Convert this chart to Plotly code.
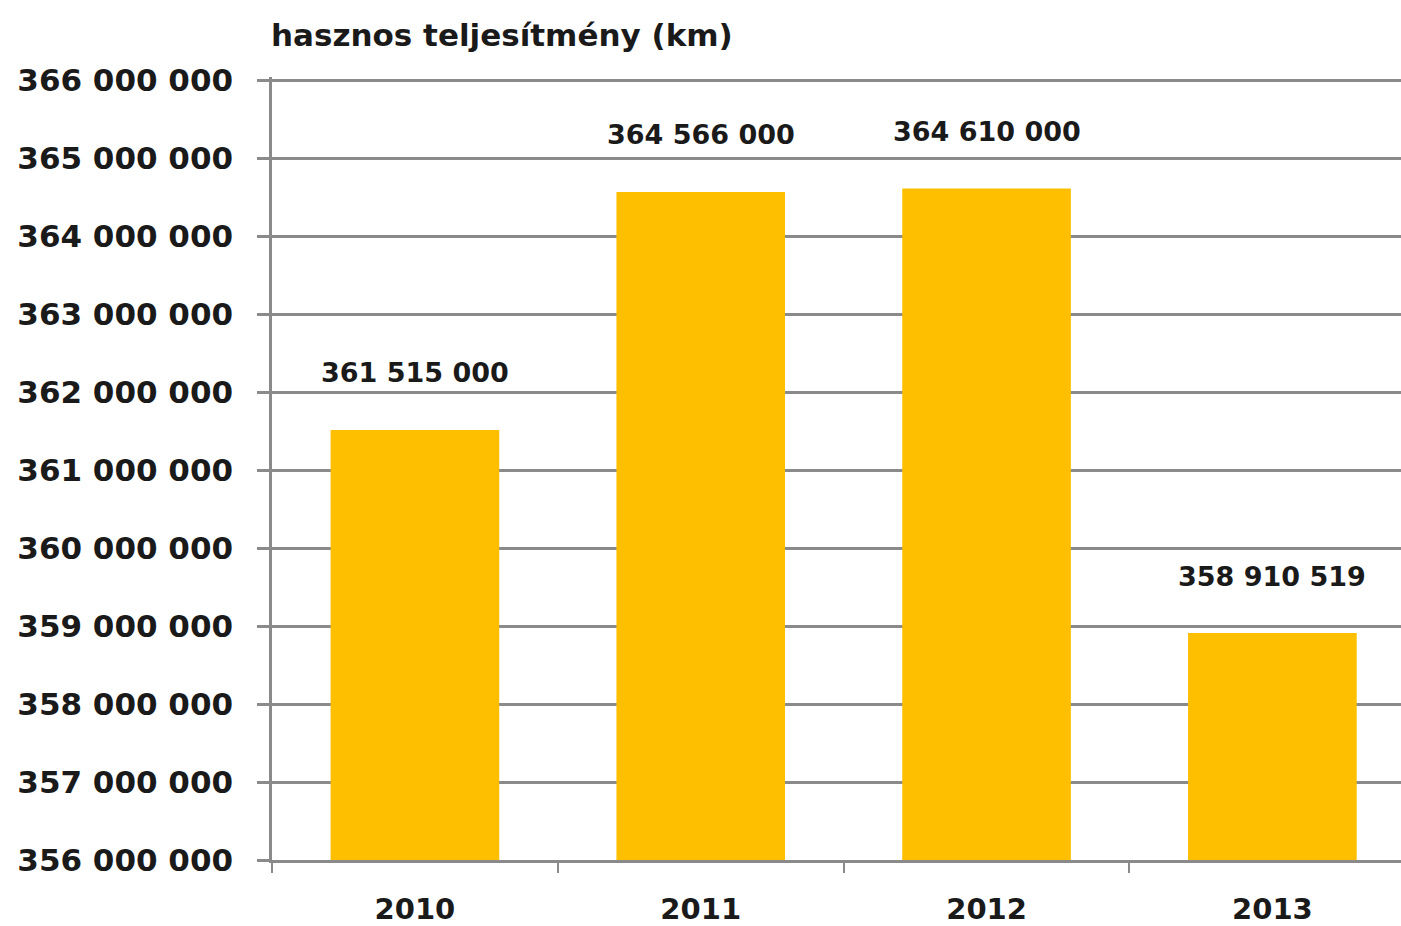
import plotly.graph_objects as go

years = ["2010", "2011", "2012", "2013"]
values = [361515000, 364566000, 364610000, 358910519]
y_ticks = [356000000 + i * 1000000 for i in range(11)]
y_tick_labels = ["356 000 000", "357 000 000", "358 000 000", "359 000 000", "360 000 000",
                 "361 000 000", "362 000 000", "363 000 000", "364 000 000", "365 000 000",
                 "366 000 000"]
title_text = "hasznos teljesítmény (km)"

FONT = "DejaVu Sans"
TXT = "#1a1a1a"
GRID = "#8a8a8a"

fig = go.Figure()
fig.add_trace(go.Bar(x=years, y=values, marker=dict(color="#FDBF00", line=dict(width=0)),
                     hoverinfo="skip"))

for i, v in enumerate(values):
    fig.add_annotation(x=i, y=v, xref="x", yref="y", text=f"{v:,}".replace(",", " "),
                       showarrow=False, yanchor="middle", yshift=57,
                       font=dict(family=FONT, size=27, color=TXT, weight="bold"))

fig.add_annotation(x=0, y=1, xref="paper", yref="paper", xanchor="left", yanchor="middle",
                   yshift=42, xshift=-3, text=title_text, showarrow=False,
                   font=dict(family=FONT, size=31, color=TXT, weight="bold"))

fig.update_layout(
    width=1401, height=926,
    margin=dict(l=272, r=0, t=77, b=64),
    plot_bgcolor="white", paper_bgcolor="white",
    bargap=0.41, showlegend=False,
    xaxis=dict(type="category", range=[-0.5, 3.45], showgrid=False, showline=True,
               linecolor=GRID, linewidth=2.5,
               ticks="outside", tickson="boundaries", ticklen=10, tickwidth=2, tickcolor=GRID,
               tickfont=dict(family=FONT, size=29, color=TXT, weight="bold"),
               ticklabelstandoff=21),
    yaxis=dict(range=[y_ticks[0], y_ticks[-1] + 40000], tickvals=y_ticks, ticktext=y_tick_labels,
               showgrid=True, gridcolor=GRID, gridwidth=2.5, zeroline=False,
               showline=True, linecolor=GRID, linewidth=2.5,
               ticks="outside", ticklen=12, tickwidth=2.5, tickcolor=GRID,
               tickfont=dict(family=FONT, size=31, color=TXT, weight="bold"),
               ticklabelstandoff=18),
)

fig.write_html("out.html", config={"displayModeBar": False},
               post_script="document.body.style.margin='0';document.body.style.overflow='hidden';")
